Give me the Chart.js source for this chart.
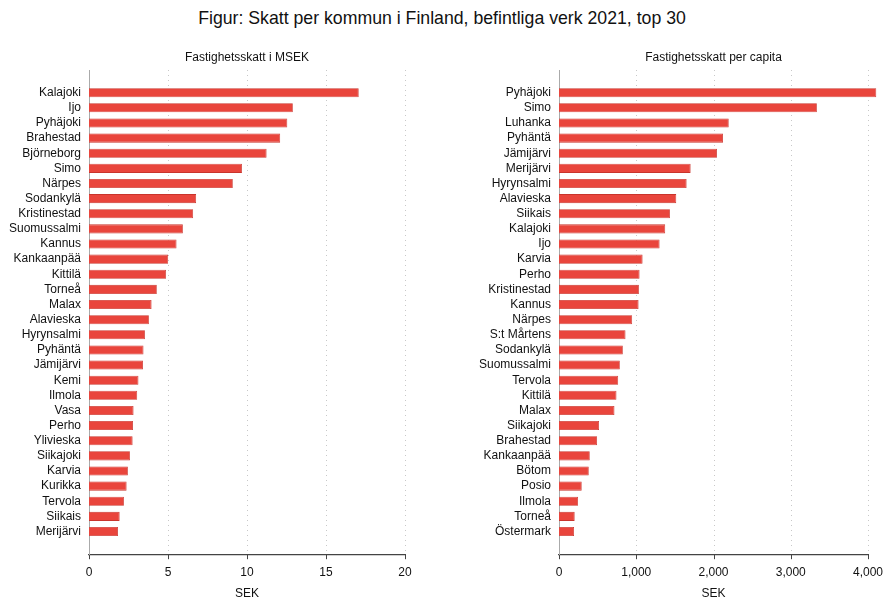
<!DOCTYPE html>
<html>
<head>
<meta charset="utf-8">
<script src="https://cdn.jsdelivr.net/npm/chart.js@4"></script>
<style>
  html, body { margin: 0; padding: 0; background: #fff; }
  body { width: 884px; height: 597px; position: relative; overflow: hidden; font-family: "Liberation Sans", Arial, sans-serif; }
  #title { position: absolute; left: 0; top: 8px; width: 884px; text-align: center; font-size: 17.7px; color: #111; }
  .box { position: absolute; top: 40px; height: 561px; }
  #boxLeft { left: 0; width: 442px; }
  #boxRight { left: 442px; width: 442px; }
</style>
</head>
<body>
<div id="title">Figur: Skatt per kommun i Finland, befintliga verk 2021, top 30</div>
<div class="box" id="boxLeft"><canvas id="left"></canvas></div>
<div class="box" id="boxRight"><canvas id="right"></canvas></div>
<script>
// Fastighetsskatt i MSEK
const leftNames = ["Kalajoki", "Ijo", "Pyhäjoki", "Brahestad", "Björneborg", "Simo", "Närpes",
  "Sodankylä", "Kristinestad", "Suomussalmi", "Kannus", "Kankaanpää", "Kittilä", "Torneå",
  "Malax", "Alavieska", "Hyrynsalmi", "Pyhäntä", "Jämijärvi", "Kemi", "Ilmola", "Vasa",
  "Perho", "Ylivieska", "Siikajoki", "Karvia", "Kurikka", "Tervola", "Siikais", "Merijärvi"]
const leftValues = [17.07, 12.9, 12.55, 12.1, 11.24, 9.68, 9.1, 6.78, 6.59, 5.94, 5.54, 5.01,
  4.88, 4.29, 3.96, 3.79, 3.54, 3.45, 3.42, 3.13, 3.05, 2.82, 2.78, 2.76, 2.59, 2.46, 2.38,
  2.21, 1.94, 1.83]
const leftTicks = [0, 5, 10, 15, 20]

// Fastighetsskatt per capita
const rightNames = ["Pyhäjoki", "Simo", "Luhanka", "Pyhäntä", "Jämijärvi", "Merijärvi",
  "Hyrynsalmi", "Alavieska", "Siikais", "Kalajoki", "Ijo", "Karvia", "Perho", "Kristinestad",
  "Kannus", "Närpes", "S:t Mårtens", "Sodankylä", "Suomussalmi", "Tervola", "Kittilä", "Malax",
  "Siikajoki", "Brahestad", "Kankaanpää", "Bötom", "Posio", "Ilmola", "Torneå", "Östermark"]
const rightValues = [4107, 3338, 2197, 2123, 2045, 1704, 1652, 1518, 1436, 1375, 1302, 1082,
  1043, 1034, 1030, 947, 861, 826, 787, 766, 744, 718, 519, 493, 398, 385, 294, 247, 203, 195]
const rightTicks = [0, 1000, 2000, 3000, 4000]

const FONT = "'Liberation Sans', Arial, sans-serif"
Chart.defaults.font.family = FONT
Chart.defaults.color = "#111"

function makeChart(id, title, names, values, ticks, axisWidth, padRight) {
  // blank category at each end gives the empty space above and below the bars
  const labels = [""].concat(names, [""])
  const data = [null].concat(values, [null])
  return new Chart(document.getElementById(id), {
    type: "bar",
    data: {
      labels: labels,
      datasets: [{
        data: data,
        backgroundColor: "#e9453c",
        borderColor: "#c9342c",
        borderWidth: 0.8,
        barPercentage: 0.6,
        categoryPercentage: 1.0,
        clip: false
      }]
    },
    options: {
      indexAxis: "y",
      responsive: true,
      maintainAspectRatio: false,
      animation: false,
      layout: { padding: { left: 0, right: padRight, top: 30, bottom: 0 } },
      plugins: {
        legend: { display: false },
        tooltip: { enabled: false },
        title: { display: false }
      },
      scales: {
        x: {
          min: ticks[0],
          max: ticks[ticks.length - 1],
          afterBuildTicks: s => { s.ticks = ticks.map(v => ({ value: v })) },
          // let the layout padding alone decide where the plot area ends
          afterFit: s => { s.paddingLeft = 0; s.paddingRight = 0 },
          border: { display: true, color: "#444", width: 1.2 },
          grid: { display: false, drawTicks: false },
          ticks: {
            font: { size: 12, family: FONT },
            color: "#111",
            padding: 11,
            maxRotation: 0,
            callback: v => v.toLocaleString("en-US")
          },
          title: {
            display: true,
            text: "SEK",
            font: { size: 12, family: FONT },
            color: "#111",
            padding: { top: -4, bottom: 0 }
          }
        },
        y: {
          offset: true,
          afterFit: s => { s.width = axisWidth },
          border: { display: true, color: "#aaa", width: 1 },
          grid: { display: false, drawTicks: false },
          ticks: {
            autoSkip: false,
            font: { size: 12, family: FONT },
            color: "#111",
            padding: 8
          }
        }
      }
    },
    plugins: [{
      id: "panelDecor",
      beforeDraw(chart) {
        // dotted vertical grid lines, short tick marks below the axis, panel subtitle
        const { ctx, chartArea, scales } = chart
        ctx.save()
        ctx.strokeStyle = "#c8c8c8"
        ctx.lineWidth = 1
        ctx.setLineDash([1, 4])
        ticks.forEach(v => {
          const x = Math.round(scales.x.getPixelForValue(v)) + 0.5
          ctx.beginPath()
          ctx.moveTo(x, chartArea.top)
          ctx.lineTo(x, chartArea.bottom)
          ctx.stroke()
        })
        ctx.setLineDash([])
        ctx.strokeStyle = "#444"
        ticks.forEach(v => {
          const x = Math.round(scales.x.getPixelForValue(v)) + 0.5
          ctx.beginPath()
          ctx.moveTo(x, chartArea.bottom)
          ctx.lineTo(x, chartArea.bottom + 5)
          ctx.stroke()
        })
        ctx.fillStyle = "#111"
        ctx.font = "12px " + FONT
        ctx.textAlign = "center"
        ctx.textBaseline = "middle"
        ctx.fillText(title, (chartArea.left + chartArea.right) / 2, 18)
        ctx.restore()
      }
    }]
  })
}

makeChart("left", "Fastighetsskatt i MSEK", leftNames, leftValues, leftTicks, 89, 37)
makeChart("right", "Fastighetsskatt per capita", rightNames, rightValues, rightTicks, 117, 16)
</script>
</body>
</html>
